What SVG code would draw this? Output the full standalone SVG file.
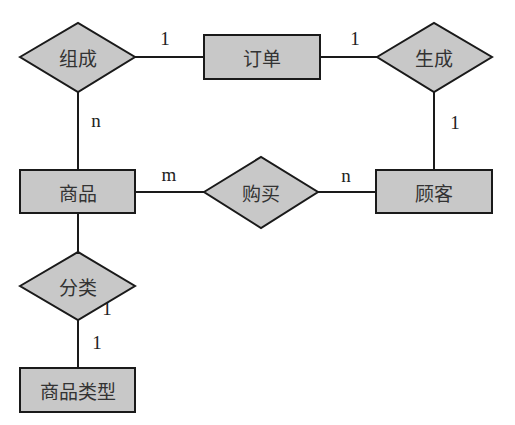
<svg xmlns="http://www.w3.org/2000/svg" width="515" height="425" viewBox="0 0 515 425">
<style>
.shape{fill:#c8c8c8;stroke:#1a1a1a;stroke-width:2}
.line{stroke:#1a1a1a;stroke-width:2;fill:none}
.t{font-family:"Noto Sans CJK SC","Noto Sans CJK JP",sans-serif;font-size:19px;fill:#333;text-anchor:middle;dominant-baseline:central}
.c{font-family:"Liberation Serif",serif;font-size:19px;fill:#222;text-anchor:middle;dominant-baseline:central}
</style>
<rect width="515" height="425" fill="#fff"/>
<g id="connectors">
<line class="line" x1="135" y1="57" x2="204" y2="57"/>
<line class="line" x1="320" y1="57" x2="377" y2="57"/>
<line class="line" x1="78" y1="92" x2="78" y2="170"/>
<line class="line" x1="434" y1="92" x2="434" y2="170"/>
<line class="line" x1="135" y1="192" x2="204" y2="192"/>
<line class="line" x1="318" y1="192" x2="376" y2="192"/>
<line class="line" x1="78" y1="213" x2="78" y2="252"/>
<line class="line" x1="78" y1="320" x2="78" y2="368"/>
<text class="c" x="165" y="38">1</text>
<text class="c" x="355" y="38">1</text>
<text class="c" x="96" y="120">n</text>
<text class="c" x="455" y="122">1</text>
<text class="c" x="169" y="174">m</text>
<text class="c" x="346" y="175">n</text>
<text class="c" x="107" y="308">1</text>
<text class="c" x="97" y="342">1</text>
</g>
<g id="zucheng">
<polygon class="shape" points="20,57 78,23 135,57 78,92"/>
<text class="t" x="78" y="57">组成</text>
</g>
<g id="dingdan">
<rect class="shape" x="204" y="35" width="116" height="44"/>
<text class="t" x="262" y="57">订单</text>
</g>
<g id="shengcheng">
<polygon class="shape" points="377,57 434,23 492,57 434,92"/>
<text class="t" x="434" y="57">生成</text>
</g>
<g id="shangpin">
<rect class="shape" x="20" y="170" width="115" height="43"/>
<text class="t" x="78" y="192">商品</text>
</g>
<g id="goumai">
<polygon class="shape" points="204,192 261,157 318,192 261,228"/>
<text class="t" x="261" y="192">购买</text>
</g>
<g id="guke">
<rect class="shape" x="376" y="170" width="116" height="43"/>
<text class="t" x="434" y="192">顾客</text>
</g>
<g id="fenlei">
<polygon class="shape" points="20,286 78,252 135,286 78,320"/>
<text class="t" x="78" y="286">分类</text>
</g>
<g id="shangpinleixing">
<rect class="shape" x="20" y="368" width="115" height="44"/>
<text class="t" x="78" y="390">商品类型</text>
</g>
</svg>
